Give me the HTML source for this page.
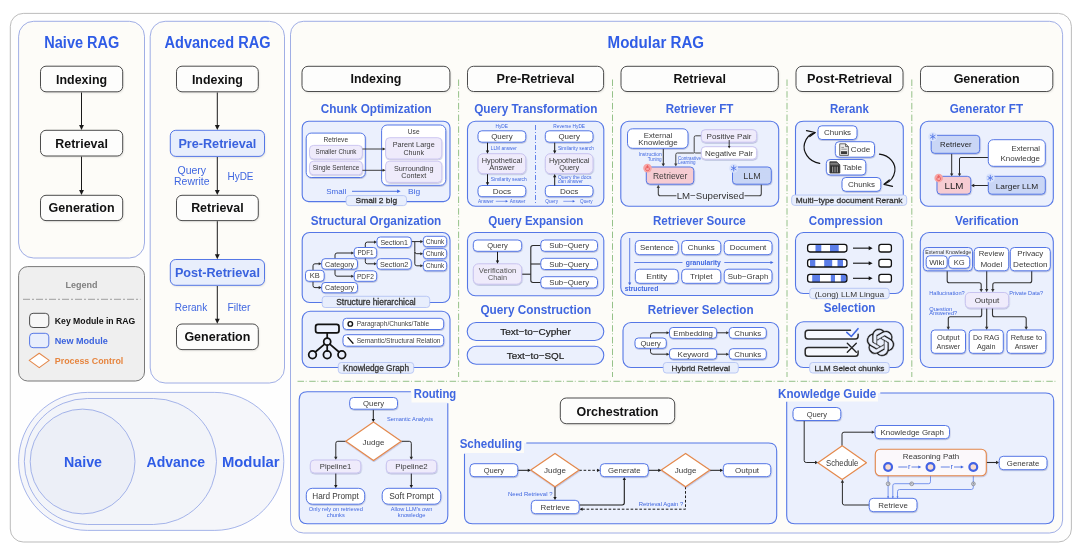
<!DOCTYPE html>
<html lang="en"><head><meta charset="utf-8"><title>RAG paradigms: Naive, Advanced, Modular</title>
<style>html,body{margin:0;padding:0;background:#fff}body{width:1080px;height:552px;overflow:hidden}svg{display:block;will-change:transform;opacity:.999}text{font-family:"Liberation Sans",Arial,Helvetica,sans-serif}</style>
</head><body>
<svg width="1080" height="552" viewBox="0 0 1080 552">
<defs><filter id="bl" x="-10%" y="-30%" width="120%" height="160%"><feGaussianBlur stdDeviation="0.9"/></filter>
<filter id="sh" x="-10%" y="-20%" width="120%" height="150%"><feDropShadow dx="0.4" dy="0.9" stdDeviation="0.7" flood-color="#2a3a80" flood-opacity="0.28"/></filter>
<pattern id="dots" width="1.6" height="1.6" patternUnits="userSpaceOnUse"><rect width="1.6" height="1.6" fill="#cbd8f7"/><circle cx="0.8" cy="0.8" r="0.35" fill="#b7c8f2"/></pattern>
</defs>
<rect width="1080" height="552" fill="#fff"/>
<rect x="10.3" y="13.4" width="1061.1" height="528.6" rx="13" fill="#fefefe" stroke="#b3b3b3" stroke-width="0.9" />
<rect x="18.6" y="21.3" width="125.9" height="236.7" rx="15" fill="#fdfcf8" stroke="#8899e0" stroke-width="0.8" />
<rect x="150.2" y="21.3" width="134.3" height="361.7" rx="15" fill="#fdfcf8" stroke="#8899e0" stroke-width="0.8" />
<rect x="290.5" y="21.3" width="772.1" height="511.7" rx="13" fill="#fdfcf8" stroke="#8899e0" stroke-width="0.8" />
<text x="81.8" y="48.2" font-size="16" font-weight="bold" fill="#2f5ce6" text-anchor="middle" textLength="75" lengthAdjust="spacingAndGlyphs" >Naive RAG</text>
<rect x="41.1" y="67.2" width="82.2" height="25.6" rx="5.5" fill="#000" stroke="none" stroke-width="0" opacity="0.13" filter="url(#bl)"/>
<rect x="40.5" y="66.2" width="82.2" height="25.6" rx="5.5" fill="#fdfdfc" stroke="#4d4d4d" stroke-width="1" />
<text x="81.6" y="83.5" font-size="13.4" font-weight="bold" fill="#111" text-anchor="middle" textLength="51" lengthAdjust="spacingAndGlyphs" >Indexing</text>
<rect x="41.1" y="131.3" width="82.2" height="25.7" rx="5.5" fill="#000" stroke="none" stroke-width="0" opacity="0.13" filter="url(#bl)"/>
<rect x="40.5" y="130.3" width="82.2" height="25.7" rx="5.5" fill="#fdfdfc" stroke="#4d4d4d" stroke-width="1" />
<text x="81.6" y="147.65" font-size="13.4" font-weight="bold" fill="#111" text-anchor="middle" textLength="52.5" lengthAdjust="spacingAndGlyphs" >Retrieval</text>
<rect x="41.1" y="196.3" width="82.2" height="25.3" rx="5.5" fill="#000" stroke="none" stroke-width="0" opacity="0.13" filter="url(#bl)"/>
<rect x="40.5" y="195.3" width="82.2" height="25.3" rx="5.5" fill="#fdfdfc" stroke="#4d4d4d" stroke-width="1" />
<text x="81.6" y="212.45" font-size="13.4" font-weight="bold" fill="#111" text-anchor="middle" textLength="66" lengthAdjust="spacingAndGlyphs" >Generation</text>
<path d="M81.5 92.5 L81.5 125.95" fill="none" stroke="#1a1a1a" stroke-width="1"/>
<polygon points="81.5,130 79.07,124.94 83.93,124.94" fill="#1a1a1a"/>
<path d="M81.5 156.6 L81.5 190.95" fill="none" stroke="#1a1a1a" stroke-width="1"/>
<polygon points="81.5,195 79.07,189.94 83.93,189.94" fill="#1a1a1a"/>
<text x="217.5" y="48.2" font-size="16" font-weight="bold" fill="#2f5ce6" text-anchor="middle" textLength="106" lengthAdjust="spacingAndGlyphs" >Advanced RAG</text>
<rect x="177.1" y="67.2" width="81.8" height="25.6" rx="5.5" fill="#000" stroke="none" stroke-width="0" opacity="0.13" filter="url(#bl)"/>
<rect x="176.5" y="66.2" width="81.8" height="25.6" rx="5.5" fill="#fdfdfc" stroke="#4d4d4d" stroke-width="1" />
<text x="217.4" y="83.5" font-size="13.4" font-weight="bold" fill="#111" text-anchor="middle" textLength="51" lengthAdjust="spacingAndGlyphs" >Indexing</text>
<rect x="170.9" y="131.3" width="94.2" height="26.1" rx="5.5" fill="#000" stroke="none" stroke-width="0" opacity="0.13" filter="url(#bl)"/>
<rect x="170.3" y="130.3" width="94.2" height="26.1" rx="5.5" fill="#e8eefc" stroke="#5577e6" stroke-width="1" />
<text x="217.4" y="147.85" font-size="13.4" font-weight="bold" fill="#3a62de" text-anchor="middle" textLength="78" lengthAdjust="spacingAndGlyphs" >Pre-Retrieval</text>
<rect x="177.1" y="196.3" width="81.8" height="25.3" rx="5.5" fill="#000" stroke="none" stroke-width="0" opacity="0.13" filter="url(#bl)"/>
<rect x="176.5" y="195.3" width="81.8" height="25.3" rx="5.5" fill="#fdfdfc" stroke="#4d4d4d" stroke-width="1" />
<text x="217.4" y="212.45" font-size="13.4" font-weight="bold" fill="#111" text-anchor="middle" textLength="52.5" lengthAdjust="spacingAndGlyphs" >Retrieval</text>
<rect x="170.9" y="260.5" width="94.2" height="25.8" rx="5.5" fill="#000" stroke="none" stroke-width="0" opacity="0.13" filter="url(#bl)"/>
<rect x="170.3" y="259.5" width="94.2" height="25.8" rx="5.5" fill="#e8eefc" stroke="#5577e6" stroke-width="1" />
<text x="217.4" y="276.9" font-size="13.4" font-weight="bold" fill="#3a62de" text-anchor="middle" textLength="85" lengthAdjust="spacingAndGlyphs" >Post-Retrieval</text>
<rect x="177.1" y="325" width="81.8" height="25.6" rx="5.5" fill="#000" stroke="none" stroke-width="0" opacity="0.13" filter="url(#bl)"/>
<rect x="176.5" y="324" width="81.8" height="25.6" rx="5.5" fill="#fdfdfc" stroke="#4d4d4d" stroke-width="1" />
<text x="217.4" y="341.3" font-size="13.4" font-weight="bold" fill="#111" text-anchor="middle" textLength="66" lengthAdjust="spacingAndGlyphs" >Generation</text>
<path d="M217.3 92.5 L217.3 125.95" fill="none" stroke="#1a1a1a" stroke-width="1"/>
<polygon points="217.3,130 214.87,124.94 219.73,124.94" fill="#1a1a1a"/>
<path d="M217.3 157 L217.3 190.95" fill="none" stroke="#1a1a1a" stroke-width="1"/>
<polygon points="217.3,195 214.87,189.94 219.73,189.94" fill="#1a1a1a"/>
<path d="M217.3 221.2 L217.3 255.15" fill="none" stroke="#1a1a1a" stroke-width="1"/>
<polygon points="217.3,259.2 214.87,254.14 219.73,254.14" fill="#1a1a1a"/>
<path d="M217.3 286 L217.3 319.65" fill="none" stroke="#1a1a1a" stroke-width="1"/>
<polygon points="217.3,323.7 214.87,318.64 219.73,318.64" fill="#1a1a1a"/>
<text x="191.8" y="173.6" font-size="10.5" fill="#3f66e0" text-anchor="middle" textLength="28.5" lengthAdjust="spacingAndGlyphs" >Query</text>
<text x="191.8" y="185" font-size="10.5" fill="#3f66e0" text-anchor="middle" textLength="35.5" lengthAdjust="spacingAndGlyphs" >Rewrite</text>
<text x="240.5" y="179.8" font-size="10.5" fill="#3f66e0" text-anchor="middle" textLength="26" lengthAdjust="spacingAndGlyphs" >HyDE</text>
<text x="191" y="310.8" font-size="10.5" fill="#3f66e0" text-anchor="middle" textLength="32.5" lengthAdjust="spacingAndGlyphs" >Rerank</text>
<text x="239" y="310.8" font-size="10.5" fill="#3f66e0" text-anchor="middle" textLength="23" lengthAdjust="spacingAndGlyphs" >Filter</text>
<rect x="18.6" y="266.6" width="125.9" height="114.4" rx="9" fill="#efefef" stroke="#6a6a6a" stroke-width="0.9" />
<text x="81.5" y="287.7" font-size="8.8" font-weight="bold" fill="#808080" text-anchor="middle" textLength="32" lengthAdjust="spacingAndGlyphs" >Legend</text>
<path d="M23 299.3H140.5" stroke="#8a8a8a" stroke-width="0.8" stroke-dasharray="7 2 2 2" fill="none"/>
<rect x="29.6" y="313.3" width="19.2" height="14.2" rx="3.5" fill="#f7f7f7" stroke="#4d4d4d" stroke-width="1" />
<text x="54.8" y="323.6" font-size="9" font-weight="bold" fill="#111" text-anchor="start" textLength="80.5" lengthAdjust="spacingAndGlyphs" >Key Module in RAG</text>
<rect x="29.6" y="333.3" width="19.2" height="14.4" rx="3.5" fill="#e8eefc" stroke="#5577e6" stroke-width="1" />
<text x="54.8" y="343.7" font-size="9" font-weight="bold" fill="#3a62de" text-anchor="start" textLength="53" lengthAdjust="spacingAndGlyphs" >New Module</text>
<polygon points="39.2,353.2 49.2,360.4 39.2,367.6 29.2,360.4" fill="#fff" stroke="#e4894c" stroke-width="1.1" stroke-linejoin="round"/>
<text x="54.8" y="363.6" font-size="9" font-weight="bold" fill="#e6853f" text-anchor="start" textLength="68.5" lengthAdjust="spacingAndGlyphs" >Process Control</text>
<rect x="18.6" y="392.4" width="265.2" height="138" rx="69" fill="#f5f6fa" stroke="#8fa2e4" stroke-width="0.8" />
<rect x="24.3" y="398.5" width="192.2" height="126" rx="63" fill="#f2f4f9" stroke="#8fa2e4" stroke-width="0.8" />
<circle cx="82.6" cy="461.5" r="52.4" fill="#eceff7" stroke="#8fa2e4" stroke-width="0.8"/>
<text x="83" y="467" font-size="15.5" font-weight="bold" fill="#2f5ce6" text-anchor="middle" textLength="38" lengthAdjust="spacingAndGlyphs" >Naive</text>
<text x="175.8" y="467" font-size="15.5" font-weight="bold" fill="#2f5ce6" text-anchor="middle" textLength="58.5" lengthAdjust="spacingAndGlyphs" >Advance</text>
<text x="250.8" y="467" font-size="15.5" font-weight="bold" fill="#2f5ce6" text-anchor="middle" textLength="57.7" lengthAdjust="spacingAndGlyphs" >Modular</text>
<text x="655.8" y="48.2" font-size="16" font-weight="bold" fill="#2f5ce6" text-anchor="middle" textLength="96.5" lengthAdjust="spacingAndGlyphs" >Modular RAG</text>
<rect x="302.6" y="67.3" width="147.9" height="25.2" rx="6" fill="#000" stroke="none" stroke-width="0" opacity="0.13" filter="url(#bl)"/>
<rect x="302" y="66.3" width="147.9" height="25.2" rx="6" fill="#fdfdfc" stroke="#4d4d4d" stroke-width="1" />
<text x="375.95" y="83.4" font-size="13.6" font-weight="bold" fill="#111" text-anchor="middle" textLength="51" lengthAdjust="spacingAndGlyphs" >Indexing</text>
<rect x="468.1" y="67.3" width="136.1" height="25.2" rx="6" fill="#000" stroke="none" stroke-width="0" opacity="0.13" filter="url(#bl)"/>
<rect x="467.5" y="66.3" width="136.1" height="25.2" rx="6" fill="#fdfdfc" stroke="#4d4d4d" stroke-width="1" />
<text x="535.55" y="83.4" font-size="13.6" font-weight="bold" fill="#111" text-anchor="middle" textLength="78" lengthAdjust="spacingAndGlyphs" >Pre-Retrieval</text>
<rect x="621.6" y="67.3" width="157.3" height="25.2" rx="6" fill="#000" stroke="none" stroke-width="0" opacity="0.13" filter="url(#bl)"/>
<rect x="621" y="66.3" width="157.3" height="25.2" rx="6" fill="#fdfdfc" stroke="#4d4d4d" stroke-width="1" />
<text x="699.65" y="83.4" font-size="13.6" font-weight="bold" fill="#111" text-anchor="middle" textLength="52.5" lengthAdjust="spacingAndGlyphs" >Retrieval</text>
<rect x="796.6" y="67.3" width="107" height="25.2" rx="6" fill="#000" stroke="none" stroke-width="0" opacity="0.13" filter="url(#bl)"/>
<rect x="796" y="66.3" width="107" height="25.2" rx="6" fill="#fdfdfc" stroke="#4d4d4d" stroke-width="1" />
<text x="849.5" y="83.4" font-size="13.6" font-weight="bold" fill="#111" text-anchor="middle" textLength="85" lengthAdjust="spacingAndGlyphs" >Post-Retrieval</text>
<rect x="921.1" y="67.3" width="132.3" height="25.2" rx="6" fill="#000" stroke="none" stroke-width="0" opacity="0.13" filter="url(#bl)"/>
<rect x="920.5" y="66.3" width="132.3" height="25.2" rx="6" fill="#fdfdfc" stroke="#4d4d4d" stroke-width="1" />
<text x="986.65" y="83.4" font-size="13.6" font-weight="bold" fill="#111" text-anchor="middle" textLength="66" lengthAdjust="spacingAndGlyphs" >Generation</text>
<path d="M458.6 79.5V377" stroke="#7ab36c" stroke-width="0.8" stroke-dasharray="6.5 1.7 0.9 2.6" fill="none"/>
<path d="M612.5 79.5V377" stroke="#7ab36c" stroke-width="0.8" stroke-dasharray="6.5 1.7 0.9 2.6" fill="none"/>
<path d="M787 79.5V377" stroke="#7ab36c" stroke-width="0.8" stroke-dasharray="6.5 1.7 0.9 2.6" fill="none"/>
<path d="M911.8 79.5V377" stroke="#7ab36c" stroke-width="0.8" stroke-dasharray="6.5 1.7 0.9 2.6" fill="none"/>
<path d="M297.5 381.3H1057.5" stroke="#7ab36c" stroke-width="0.8" stroke-dasharray="6.5 1.7 0.9 2.6" fill="none"/>
<text x="376.3" y="113" font-size="12" font-weight="bold" fill="#3f66e0" text-anchor="middle" textLength="111" lengthAdjust="spacingAndGlyphs" >Chunk Optimization</text>
<rect x="302.2" y="121.3" width="147.8" height="80.3" rx="6.5" fill="#ebf0fd" stroke="#5577e6" stroke-width="1.1" />
<g filter="url(#sh)">
<rect x="306.2" y="133.1" width="59.1" height="44.4" rx="5" fill="#fff" stroke="#5577e6" stroke-width="1" />
<rect x="381.6" y="125" width="64.2" height="60.3" rx="5.5" fill="#fff" stroke="#5577e6" stroke-width="1" />
</g>
<text x="335.8" y="141.7" font-size="6.6" fill="#3a3a3a" text-anchor="middle" >Retrieve</text>
<text x="413.7" y="133.8" font-size="6.6" fill="#3a3a3a" text-anchor="middle" >Use</text>
<g filter="url(#sh)">
<rect x="309.5" y="145.4" width="52.9" height="13.6" rx="4" fill="#efebfb" stroke="#c8c3f0" stroke-width="0.9" />
<rect x="309.5" y="161.2" width="52.9" height="13.6" rx="4" fill="#efebfb" stroke="#c8c3f0" stroke-width="0.9" />
<rect x="385.6" y="137.7" width="56.2" height="21.3" rx="4" fill="#efebfb" stroke="#c8c3f0" stroke-width="0.9" />
<rect x="385.6" y="161.2" width="56.2" height="21.2" rx="4" fill="#efebfb" stroke="#c8c3f0" stroke-width="0.9" />
</g>
<text x="336" y="154.4" font-size="6.3" fill="#3a3a3a" text-anchor="middle" textLength="41" lengthAdjust="spacingAndGlyphs" >Smaller Chunk</text>
<text x="336" y="170.3" font-size="6.3" fill="#3a3a3a" text-anchor="middle" textLength="46.5" lengthAdjust="spacingAndGlyphs" >Single Sentence</text>
<text x="413.7" y="147.2" font-size="6.9" fill="#3a3a3a" text-anchor="middle" textLength="42" lengthAdjust="spacingAndGlyphs" >Parent Large</text>
<text x="413.7" y="154.6" font-size="6.9" fill="#3a3a3a" text-anchor="middle" textLength="20.5" lengthAdjust="spacingAndGlyphs" >Chunk</text>
<text x="413.7" y="170.6" font-size="6.9" fill="#3a3a3a" text-anchor="middle" textLength="39.5" lengthAdjust="spacingAndGlyphs" >Surrounding</text>
<text x="413.7" y="177.8" font-size="6.9" fill="#3a3a3a" text-anchor="middle" textLength="25" lengthAdjust="spacingAndGlyphs" >Context</text>
<path d="M362.4 149 L383.21 149" fill="none" stroke="#2a2a2a" stroke-width="0.9"/>
<polygon points="385.6,149 382.61,150.55 382.61,147.45" fill="#2a2a2a"/>
<path d="M362.4 170.3 L383.21 170.3" fill="none" stroke="#2a2a2a" stroke-width="0.9"/>
<polygon points="385.6,170.3 382.61,171.85 382.61,168.75" fill="#2a2a2a"/>
<text x="336.2" y="194.2" font-size="8" fill="#3f66e0" text-anchor="middle" textLength="20.1" lengthAdjust="spacingAndGlyphs" >Small</text>
<path d="M352 191.3 L397.84 191.3" fill="none" stroke="#3f66e0" stroke-width="0.9"/>
<polygon points="400.6,191.3 397.15,193.09 397.15,189.51" fill="#3f66e0"/>
<text x="414" y="194.2" font-size="8" fill="#3f66e0" text-anchor="middle" textLength="12.2" lengthAdjust="spacingAndGlyphs" >Big</text>
<rect x="346.1" y="195.6" width="60.4" height="10" rx="3" fill="#e8eefc" stroke="#b4c4f4" stroke-width="0.9" />
<text x="376.3" y="203.4" font-size="8" fill="#2e2e2e" text-anchor="middle" textLength="41.5" lengthAdjust="spacingAndGlyphs" stroke="#2e2e2e" stroke-width="0.28">Small 2 big</text>
<text x="376" y="224.6" font-size="12" font-weight="bold" fill="#3f66e0" text-anchor="middle" textLength="130.5" lengthAdjust="spacingAndGlyphs" >Structural Organization</text>
<rect x="302.2" y="232.5" width="147.8" height="70" rx="7.5" fill="#ebf0fd" stroke="#5577e6" stroke-width="1.1" />
<path d="M313 270.3 L313 265.8 Q313 263.8 315 263.8 L319.31 263.8" fill="none" stroke="#2a2a2a" stroke-width="1.0"/>
<polygon points="321.7,263.8 318.71,265.35 318.71,262.25" fill="#2a2a2a"/>
<path d="M313 281.3 L313 285.6 Q313 287.6 315 287.6 L319.31 287.6" fill="none" stroke="#2a2a2a" stroke-width="1.0"/>
<polygon points="321.7,287.6 318.71,289.15 318.71,286.05" fill="#2a2a2a"/>
<path d="M335 258.7 L335 255 Q335 253 337 253 L351.81 253" fill="none" stroke="#2a2a2a" stroke-width="1.0"/>
<polygon points="354.2,253 351.21,254.55 351.21,251.45" fill="#2a2a2a"/>
<path d="M335 269.2 L335 274.2 Q335 276.2 337 276.2 L351.81 276.2" fill="none" stroke="#2a2a2a" stroke-width="1.0"/>
<polygon points="354.2,276.2 351.21,277.75 351.21,274.65" fill="#2a2a2a"/>
<path d="M365.3 247.5 L365.3 244.1 Q365.3 242.1 367.3 242.1 L374.61 242.1" fill="none" stroke="#2a2a2a" stroke-width="1.0"/>
<polygon points="377,242.1 374.01,243.65 374.01,240.55" fill="#2a2a2a"/>
<path d="M365.3 258 L365.3 261.8 Q365.3 263.8 367.3 263.8 L374.61 263.8" fill="none" stroke="#2a2a2a" stroke-width="1.0"/>
<polygon points="377,263.8 374.01,265.35 374.01,262.25" fill="#2a2a2a"/>
<path d="M411.3 241.6 L420.91 241.6" fill="none" stroke="#2a2a2a" stroke-width="1.0"/>
<polygon points="423.3,241.6 420.31,243.15 420.31,240.05" fill="#2a2a2a"/>
<path d="M414.8 241.6 L414.8 251.7 Q414.8 253.7 416.8 253.7 L420.91 253.7" fill="none" stroke="#2a2a2a" stroke-width="1.0"/>
<polygon points="423.3,253.7 420.31,255.25 420.31,252.15" fill="#2a2a2a"/>
<path d="M414.8 252 L414.8 263.8 Q414.8 265.8 416.8 265.8 L420.91 265.8" fill="none" stroke="#2a2a2a" stroke-width="1.0"/>
<polygon points="423.3,265.8 420.31,267.35 420.31,264.25" fill="#2a2a2a"/>
<g filter="url(#sh)">
</g>
<rect x="377" y="237" width="34.3" height="10.5" rx="3.3" fill="#fff" stroke="#5577e6" stroke-width="1" filter="url(#sh)"/>
<text x="394.15" y="244.91" font-size="7.4" fill="#3a3a3a" text-anchor="middle" textLength="27.5" lengthAdjust="spacingAndGlyphs" >Section1</text>
<rect x="423.3" y="236.3" width="23.4" height="10.4" rx="3.3" fill="#fff" stroke="#5577e6" stroke-width="1" filter="url(#sh)"/>
<text x="435" y="244.16" font-size="7.4" fill="#3a3a3a" text-anchor="middle" textLength="18" lengthAdjust="spacingAndGlyphs" >Chunk</text>
<rect x="423.3" y="248.7" width="23.4" height="10" rx="3.3" fill="#fff" stroke="#5577e6" stroke-width="1" filter="url(#sh)"/>
<text x="435" y="256.36" font-size="7.4" fill="#3a3a3a" text-anchor="middle" textLength="18" lengthAdjust="spacingAndGlyphs" >Chunk</text>
<rect x="423.3" y="260.8" width="23.4" height="10" rx="3.3" fill="#fff" stroke="#5577e6" stroke-width="1" filter="url(#sh)"/>
<text x="435" y="268.46" font-size="7.4" fill="#3a3a3a" text-anchor="middle" textLength="18" lengthAdjust="spacingAndGlyphs" >Chunk</text>
<rect x="354.2" y="247.5" width="22.5" height="10.5" rx="3.3" fill="#fff" stroke="#5577e6" stroke-width="1" filter="url(#sh)"/>
<text x="365.45" y="255.41" font-size="7.4" fill="#3a3a3a" text-anchor="middle" textLength="16" lengthAdjust="spacingAndGlyphs" >PDF1</text>
<rect x="377" y="258.7" width="34.3" height="10.5" rx="3.3" fill="#fff" stroke="#5577e6" stroke-width="1" filter="url(#sh)"/>
<text x="394.15" y="266.61" font-size="7.4" fill="#3a3a3a" text-anchor="middle" textLength="28.5" lengthAdjust="spacingAndGlyphs" >Section2</text>
<rect x="321.7" y="258.7" width="35.8" height="10.5" rx="3.3" fill="#fff" stroke="#5577e6" stroke-width="1" filter="url(#sh)"/>
<text x="339.6" y="266.61" font-size="7.4" fill="#3a3a3a" text-anchor="middle" textLength="29" lengthAdjust="spacingAndGlyphs" >Category</text>
<rect x="354.2" y="270.8" width="22.5" height="10.5" rx="3.3" fill="#fff" stroke="#5577e6" stroke-width="1" filter="url(#sh)"/>
<text x="365.45" y="278.71" font-size="7.4" fill="#3a3a3a" text-anchor="middle" textLength="17" lengthAdjust="spacingAndGlyphs" >PDF2</text>
<rect x="305.5" y="270.3" width="18.7" height="11" rx="3.3" fill="#fff" stroke="#5577e6" stroke-width="1" filter="url(#sh)"/>
<text x="314.85" y="278.46" font-size="7.4" fill="#3a3a3a" text-anchor="middle" textLength="10" lengthAdjust="spacingAndGlyphs" >KB</text>
<rect x="321.7" y="282.5" width="35.8" height="10.3" rx="3.3" fill="#fff" stroke="#5577e6" stroke-width="1" filter="url(#sh)"/>
<text x="339.6" y="290.31" font-size="7.4" fill="#3a3a3a" text-anchor="middle" textLength="29" lengthAdjust="spacingAndGlyphs" >Category</text>
<rect x="322.2" y="296.3" width="107.5" height="11.2" rx="3" fill="#e8eefc" stroke="#b4c4f4" stroke-width="0.9" />
<text x="375.95" y="305" font-size="8.2" fill="#333" text-anchor="middle" textLength="79.5" lengthAdjust="spacingAndGlyphs" stroke="#333" stroke-width="0.28">Structure hierarchical</text>
<rect x="302.2" y="311.3" width="147.8" height="56.2" rx="8" fill="#ebf0fd" stroke="#5577e6" stroke-width="1.1" />
<rect x="343" y="318.3" width="100.7" height="11.2" rx="3.5" fill="#fff" stroke="#5577e6" stroke-width="1" filter="url(#sh)"/>
<rect x="343" y="334.7" width="100.7" height="11.5" rx="3.5" fill="#fff" stroke="#5577e6" stroke-width="1" filter="url(#sh)"/>
<circle cx="350.3" cy="323.9" r="2.25" fill="none" stroke="#111" stroke-width="1.4"/>
<text x="356.7" y="326" font-size="6.6" fill="#444" text-anchor="start" textLength="72.5" lengthAdjust="spacingAndGlyphs" >Paragraph/Chunks/Table</text>
<path d="M348 337.6L353 343.2" stroke="#111" stroke-width="1.3" stroke-linecap="round"/>
<text x="356.7" y="342.6" font-size="6.6" fill="#444" text-anchor="start" textLength="83.8" lengthAdjust="spacingAndGlyphs" >Semantic/Structural Relation</text>
<g fill="none" stroke="#111" stroke-width="1.75" stroke-linecap="round">
<rect x="315.6" y="324.3" width="23.4" height="8.6" rx="2.4"/>
<path d="M327.2 333.1V338.2M324.6 344.2L315.3 352M327.2 345.3V351M329.8 344.2L339 352"/>
<circle cx="327.2" cy="341.7" r="3.5"/><circle cx="312.5" cy="354.7" r="3.8"/><circle cx="327.2" cy="354.7" r="3.8"/><circle cx="341.8" cy="354.7" r="3.8"/>
</g>
<rect x="338.3" y="362.5" width="75.4" height="10.8" rx="3" fill="#e8eefc" stroke="#b4c4f4" stroke-width="0.9" />
<text x="376" y="370.9" font-size="8.2" fill="#333" text-anchor="middle" textLength="66" lengthAdjust="spacingAndGlyphs" stroke="#333" stroke-width="0.28">Knowledge Graph</text>
<text x="535.8" y="113" font-size="12" font-weight="bold" fill="#3f66e0" text-anchor="middle" textLength="123.3" lengthAdjust="spacingAndGlyphs" >Query Transformation</text>
<rect x="467.5" y="121.3" width="136.3" height="84.9" rx="8" fill="#ebf0fd" stroke="#5577e6" stroke-width="1.1" />
<text x="501.7" y="128.3" font-size="4.8" fill="#3f66e0" text-anchor="middle" >HyDE</text>
<text x="569.2" y="128.3" font-size="4.8" fill="#3f66e0" text-anchor="middle" >Reverse HyDE</text>
<path d="M535.5 125V203" stroke="#5577e6" stroke-width="0.9" stroke-dasharray="5 2 1 2" fill="none"/>
<rect x="478" y="130.8" width="47.8" height="11.4" rx="3.8" fill="#fff" stroke="#5577e6" stroke-width="1" filter="url(#sh)"/>
<text x="501.9" y="139.38" font-size="8" fill="#3a3a3a" text-anchor="middle" textLength="21.5" lengthAdjust="spacingAndGlyphs" >Query</text>
<rect x="478" y="153.7" width="47.8" height="20" rx="5" fill="#efebfb" stroke="#c8c3f0" stroke-width="1" filter="url(#sh)"/>
<rect x="478" y="185.5" width="47.8" height="11.2" rx="3.8" fill="#fff" stroke="#5577e6" stroke-width="1" filter="url(#sh)"/>
<text x="501.9" y="193.98" font-size="8" fill="#3a3a3a" text-anchor="middle" textLength="18.5" lengthAdjust="spacingAndGlyphs" >Docs</text>
<rect x="545.3" y="130.8" width="47.7" height="11.4" rx="3.8" fill="#fff" stroke="#5577e6" stroke-width="1" filter="url(#sh)"/>
<text x="569.15" y="139.38" font-size="8" fill="#3a3a3a" text-anchor="middle" textLength="21.5" lengthAdjust="spacingAndGlyphs" >Query</text>
<rect x="545.3" y="153.7" width="47.7" height="20" rx="5" fill="#efebfb" stroke="#c8c3f0" stroke-width="1" filter="url(#sh)"/>
<rect x="545.3" y="185.5" width="47.7" height="11.2" rx="3.8" fill="#fff" stroke="#5577e6" stroke-width="1" filter="url(#sh)"/>
<text x="569.15" y="193.98" font-size="8" fill="#3a3a3a" text-anchor="middle" textLength="18.5" lengthAdjust="spacingAndGlyphs" >Docs</text>
<text x="501.9" y="162.9" font-size="7.4" fill="#3a3a3a" text-anchor="middle" textLength="40.5" lengthAdjust="spacingAndGlyphs" >Hypothetical</text>
<text x="501.9" y="170.1" font-size="7.4" fill="#3a3a3a" text-anchor="middle" textLength="25.5" lengthAdjust="spacingAndGlyphs" >Answer</text>
<text x="569.2" y="162.9" font-size="7.4" fill="#3a3a3a" text-anchor="middle" textLength="40.5" lengthAdjust="spacingAndGlyphs" >Hypothetical</text>
<text x="569.2" y="170.1" font-size="7.4" fill="#3a3a3a" text-anchor="middle" textLength="20" lengthAdjust="spacingAndGlyphs" >Query</text>
<path d="M487.5 142.7 L487.5 151.12" fill="none" stroke="#1a1a1a" stroke-width="1.0"/>
<polygon points="487.5,153.7 485.83,150.48 489.17,150.48" fill="#1a1a1a"/>
<path d="M487.5 174.2 L487.5 182.92" fill="none" stroke="#1a1a1a" stroke-width="1.0"/>
<polygon points="487.5,185.5 485.83,182.28 489.17,182.28" fill="#1a1a1a"/>
<path d="M554.7 142.7 L554.7 151.12" fill="none" stroke="#1a1a1a" stroke-width="1.0"/>
<polygon points="554.7,153.7 553.03,150.48 556.37,150.48" fill="#1a1a1a"/>
<path d="M554.7 185.5 L554.7 176.58" fill="none" stroke="#1a1a1a" stroke-width="1.0"/>
<polygon points="554.7,174 556.37,177.22 553.03,177.22" fill="#1a1a1a"/>
<text x="490.8" y="149.6" font-size="4.8" fill="#3f66e0" text-anchor="start" textLength="26" lengthAdjust="spacingAndGlyphs" >LLM answer</text>
<text x="490.8" y="180.9" font-size="4.8" fill="#3f66e0" text-anchor="start" textLength="35.9" lengthAdjust="spacingAndGlyphs" >Similarity search</text>
<text x="558" y="149.6" font-size="4.8" fill="#3f66e0" text-anchor="start" textLength="35.9" lengthAdjust="spacingAndGlyphs" >Similarity search</text>
<text x="558" y="178.9" font-size="4.8" fill="#3f66e0" text-anchor="start" textLength="33.5" lengthAdjust="spacingAndGlyphs" >Query the docs</text>
<text x="558" y="183.4" font-size="4.8" fill="#3f66e0" text-anchor="start" textLength="25" lengthAdjust="spacingAndGlyphs" >can answer</text>
<text x="478" y="202.9" font-size="4.6" fill="#3f66e0" text-anchor="start" textLength="15.7" lengthAdjust="spacingAndGlyphs" >Answer</text>
<text x="509.7" y="202.9" font-size="4.6" fill="#3f66e0" text-anchor="start" textLength="15.7" lengthAdjust="spacingAndGlyphs" >Answer</text>
<path d="M495.8 201.3 L506.16 201.3" fill="none" stroke="#3f66e0" stroke-width="0.6"/>
<polygon points="508,201.3 505.7,202.5 505.7,200.1" fill="#3f66e0"/>
<text x="545.3" y="202.9" font-size="4.6" fill="#3f66e0" text-anchor="start" textLength="12.7" lengthAdjust="spacingAndGlyphs" >Query</text>
<text x="580" y="202.9" font-size="4.6" fill="#3f66e0" text-anchor="start" textLength="12.7" lengthAdjust="spacingAndGlyphs" >Query</text>
<path d="M563.3 201.3 L573.16 201.3" fill="none" stroke="#3f66e0" stroke-width="0.6"/>
<polygon points="575,201.3 572.7,202.5 572.7,200.1" fill="#3f66e0"/>
<text x="535.8" y="224.6" font-size="12" font-weight="bold" fill="#3f66e0" text-anchor="middle" textLength="95" lengthAdjust="spacingAndGlyphs" >Query Expansion</text>
<rect x="467.5" y="232.5" width="136.3" height="63.3" rx="8" fill="#ebf0fd" stroke="#5577e6" stroke-width="1.1" />
<path d="M521.7 274.2 L530.8 274.2" fill="none" stroke="#2a2a2a" stroke-width="1.1"/>
<path d="M540.8 245.5 L533 245.5 Q530.8 245.5 530.8 247.7 L530.8 280.3 Q530.8 282.5 533 282.5 L540.8 282.5" fill="none" stroke="#2a2a2a" stroke-width="1.1"/>
<path d="M530.8 264 L540.8 264" fill="none" stroke="#2a2a2a" stroke-width="1.1"/>
<rect x="473.3" y="240" width="48.4" height="11.3" rx="3.8" fill="#fff" stroke="#5577e6" stroke-width="1" filter="url(#sh)"/>
<text x="497.5" y="248.31" font-size="7.4" fill="#3a3a3a" text-anchor="middle" textLength="20.5" lengthAdjust="spacingAndGlyphs" >Query</text>
<rect x="473.3" y="263.8" width="48.4" height="20.4" rx="5" fill="#efebfb" stroke="#c8c3f0" stroke-width="1" filter="url(#sh)"/>
<text x="497.5" y="272.6" font-size="6.8" fill="#555" text-anchor="middle" textLength="37.5" lengthAdjust="spacingAndGlyphs" >Verification</text>
<text x="497.5" y="279.8" font-size="6.8" fill="#555" text-anchor="middle" textLength="19" lengthAdjust="spacingAndGlyphs" >Chain</text>
<path d="M497.5 251.8 L497.5 261.22" fill="none" stroke="#1a1a1a" stroke-width="1.0"/>
<polygon points="497.5,263.8 495.83,260.58 499.17,260.58" fill="#1a1a1a"/>
<rect x="540.8" y="240" width="56.7" height="11.3" rx="3.8" fill="#fff" stroke="#5577e6" stroke-width="1" filter="url(#sh)"/>
<text x="569.15" y="248.31" font-size="7.4" fill="#3a3a3a" text-anchor="middle" textLength="40" lengthAdjust="spacingAndGlyphs" >Sub−Query</text>
<rect x="540.8" y="258.3" width="56.7" height="11.2" rx="3.8" fill="#fff" stroke="#5577e6" stroke-width="1" filter="url(#sh)"/>
<text x="569.15" y="266.56" font-size="7.4" fill="#3a3a3a" text-anchor="middle" textLength="40" lengthAdjust="spacingAndGlyphs" >Sub−Query</text>
<rect x="540.8" y="276.7" width="56.7" height="11.3" rx="3.8" fill="#fff" stroke="#5577e6" stroke-width="1" filter="url(#sh)"/>
<text x="569.15" y="285.01" font-size="7.4" fill="#3a3a3a" text-anchor="middle" textLength="40" lengthAdjust="spacingAndGlyphs" >Sub−Query</text>
<text x="535.8" y="314.2" font-size="12" font-weight="bold" fill="#3f66e0" text-anchor="middle" textLength="110.7" lengthAdjust="spacingAndGlyphs" >Query Construction</text>
<rect x="467.2" y="322.5" width="136.6" height="18" rx="9" fill="#ebf0fd" stroke="#5577e6" stroke-width="1.1" />
<rect x="467.2" y="346.3" width="136.6" height="17.9" rx="9" fill="#ebf0fd" stroke="#5577e6" stroke-width="1.1" />
<text x="535.5" y="335" font-size="9.4" fill="#222" text-anchor="middle" textLength="70.5" lengthAdjust="spacingAndGlyphs" stroke="#222" stroke-width="0.2">Text−to−Cypher</text>
<text x="535.5" y="358.8" font-size="9.4" fill="#222" text-anchor="middle" textLength="57.5" lengthAdjust="spacingAndGlyphs" stroke="#222" stroke-width="0.2">Text−to−SQL</text>
<text x="699.5" y="113" font-size="12" font-weight="bold" fill="#3f66e0" text-anchor="middle" textLength="67.75" lengthAdjust="spacingAndGlyphs" >Retriever FT</text>
<rect x="620.8" y="121.3" width="157.9" height="84.9" rx="8" fill="#ebf0fd" stroke="#5577e6" stroke-width="1.1" />
<path d="M663.3 148.3 L663.3 164.02" fill="none" stroke="#2a2a2a" stroke-width="1.0"/>
<polygon points="663.3,166.6 661.63,163.38 664.97,163.38" fill="#2a2a2a"/>
<path d="M701.3 135.8 L695.7 135.8 Q694.2 135.8 694.2 137.3 L694.2 151.5 Q694.2 153 695.7 153 L701.3 153" fill="none" stroke="#444" stroke-width="1.0"/>
<path d="M694.2 153 L677.3 153 Q675.8 153 675.8 154.5 L675.8 164.02" fill="none" stroke="#444" stroke-width="1.0"/>
<polygon points="675.8,166.6 674.13,163.38 677.47,163.38" fill="#444"/>
<rect x="627.5" y="128.8" width="60.5" height="19.5" rx="5" fill="#fff" stroke="#5577e6" stroke-width="1" filter="url(#sh)"/>
<text x="658" y="137.9" font-size="7.6" fill="#3a3a3a" text-anchor="middle" textLength="28.5" lengthAdjust="spacingAndGlyphs" >External</text>
<text x="658" y="145.1" font-size="7.6" fill="#3a3a3a" text-anchor="middle" textLength="39.5" lengthAdjust="spacingAndGlyphs" >Knowledge</text>
<rect x="701.3" y="129.7" width="55.4" height="12.5" rx="3.8" fill="#efebfb" stroke="#c8c3f0" stroke-width="1" filter="url(#sh)"/>
<text x="729" y="138.76" font-size="7.8" fill="#3a3a3a" text-anchor="middle" textLength="45" lengthAdjust="spacingAndGlyphs" >Positive Pair</text>
<rect x="701.3" y="146.7" width="55.4" height="12.5" rx="3.8" fill="#fff" stroke="#c8c3f0" stroke-width="1" filter="url(#sh)"/>
<text x="729" y="155.76" font-size="7.8" fill="#3a3a3a" text-anchor="middle" textLength="48" lengthAdjust="spacingAndGlyphs" >Negative Pair</text>
<path d="M729.2 140 L729.2 146.58" fill="none" stroke="#2a2a2a" stroke-width="0.9"/>
<polygon points="729.2,148.6 727.88,146.07 730.52,146.07" fill="#2a2a2a"/>
<text x="661.7" y="156.2" font-size="4.5" fill="#3f66e0" text-anchor="end" textLength="23" lengthAdjust="spacingAndGlyphs" >Instruction</text>
<text x="661.7" y="160.8" font-size="4.5" fill="#3f66e0" text-anchor="end" textLength="14" lengthAdjust="spacingAndGlyphs" >Tuning</text>
<text x="678" y="159.5" font-size="4.5" fill="#3f66e0" text-anchor="start" textLength="23" lengthAdjust="spacingAndGlyphs" >Contrastive</text>
<text x="678" y="163.9" font-size="4.5" fill="#3f66e0" text-anchor="start" textLength="17.5" lengthAdjust="spacingAndGlyphs" >Learning</text>
<rect x="646.3" y="167" width="47.5" height="17.2" rx="3.5" fill="#f6ccd2" stroke="#5577e6" stroke-width="1" filter="url(#sh)"/>
<text x="670.2" y="179.2" font-size="8.6" fill="#3a3a3a" text-anchor="middle" textLength="34.5" lengthAdjust="spacingAndGlyphs" >Retriever</text>
<rect x="732.5" y="167" width="38.8" height="17.2" rx="3.5" fill="url(#dots)" stroke="#5577e6" stroke-width="1" filter="url(#sh)"/>
<text x="752" y="179.2" font-size="8.6" fill="#3a3a3a" text-anchor="middle" textLength="17.5" lengthAdjust="spacingAndGlyphs" >LLM</text>
<circle cx="647.5" cy="168.1" r="4.3" fill="#f7a3a3"/>
<path d="M647.5 165.5 C647.9 166.9 649.6 167.7 649.4 169.1 C649.3 170.3 648.4 170.7 647.5 170.7 C646.6 170.7 645.6 170.2 645.6 169 C645.6 167.9 646.6 167.5 646.7 166.6 C647.1 166.9 647.3 167.2 647.4 167.8 C647.7 167.1 647.7 166.3 647.5 165.5Z" fill="none" stroke="#e23c3c" stroke-width="0.6"/>
<circle cx="733.7" cy="168.3" r="4.5" fill="#d9e3fc"/>
<path d="M733.7 165.6L733.7 171M736.04 166.95L731.36 169.65M736.04 169.65L731.36 166.95" stroke="#4f74e6" stroke-width="0.85" fill="none" stroke-linecap="round"/>
<path d="M761.3 184.7 L761.3 193.8 Q761.3 195.8 759.3 195.8 L744.5 195.8" fill="none" stroke="#444" stroke-width="1.1"/>
<path d="M676.4 195.8 L660.3 195.8 Q658.3 195.8 658.3 193.8 L658.3 187.28" fill="none" stroke="#444" stroke-width="1.1"/>
<polygon points="658.3,184.7 659.97,187.92 656.63,187.92" fill="#444"/>
<text x="710.4" y="198.9" font-size="9.6" fill="#333" text-anchor="middle" textLength="67.5" lengthAdjust="spacingAndGlyphs" >LM−Supervised</text>
<text x="699.4" y="224.6" font-size="12" font-weight="bold" fill="#3f66e0" text-anchor="middle" textLength="92.8" lengthAdjust="spacingAndGlyphs" >Retriever Source</text>
<rect x="620.8" y="232.5" width="157.9" height="63" rx="8" fill="#ebf0fd" stroke="#5577e6" stroke-width="1.1" />
<rect x="635.3" y="240.5" width="43" height="14.2" rx="4" fill="#fff" stroke="#5577e6" stroke-width="1" filter="url(#sh)"/>
<text x="656.8" y="250.4" font-size="7.6" fill="#3a3a3a" text-anchor="middle" textLength="33.5" lengthAdjust="spacingAndGlyphs" >Sentence</text>
<rect x="681.7" y="240.5" width="39.1" height="14.2" rx="4" fill="#fff" stroke="#5577e6" stroke-width="1" filter="url(#sh)"/>
<text x="701.25" y="250.4" font-size="7.6" fill="#3a3a3a" text-anchor="middle" textLength="27" lengthAdjust="spacingAndGlyphs" >Chunks</text>
<rect x="724.2" y="240.5" width="47.8" height="14.2" rx="4" fill="#fff" stroke="#5577e6" stroke-width="1" filter="url(#sh)"/>
<text x="748.1" y="250.4" font-size="7.6" fill="#3a3a3a" text-anchor="middle" textLength="36.5" lengthAdjust="spacingAndGlyphs" >Document</text>
<rect x="635.3" y="269.2" width="43" height="14.1" rx="4" fill="#fff" stroke="#5577e6" stroke-width="1" filter="url(#sh)"/>
<text x="656.8" y="279.05" font-size="7.6" fill="#3a3a3a" text-anchor="middle" textLength="21" lengthAdjust="spacingAndGlyphs" >Entity</text>
<rect x="681.7" y="269.2" width="39.1" height="14.1" rx="4" fill="#fff" stroke="#5577e6" stroke-width="1" filter="url(#sh)"/>
<text x="701.25" y="279.05" font-size="7.6" fill="#3a3a3a" text-anchor="middle" textLength="22.5" lengthAdjust="spacingAndGlyphs" >Triplet</text>
<rect x="724.2" y="269.2" width="47.8" height="14.1" rx="4" fill="#fff" stroke="#5577e6" stroke-width="1" filter="url(#sh)"/>
<text x="748.1" y="279.05" font-size="7.6" fill="#3a3a3a" text-anchor="middle" textLength="40.5" lengthAdjust="spacingAndGlyphs" >Sub−Graph</text>
<path d="M634.2 262.5 L682.5 262.5" fill="none" stroke="#3f66e0" stroke-width="0.8"/>
<path d="M724.3 262.5 L771.11 262.5" fill="none" stroke="#3f66e0" stroke-width="0.8"/>
<polygon points="773.5,262.5 770.51,264.05 770.51,260.95" fill="#3f66e0"/>
<text x="703.3" y="265" font-size="6.8" font-weight="bold" fill="#3f66e0" text-anchor="middle" textLength="35" lengthAdjust="spacingAndGlyphs" >granularity</text>
<path d="M629.7 238 L629.7 283.11" fill="none" stroke="#3f66e0" stroke-width="0.8"/>
<polygon points="629.7,285.5 628.15,282.51 631.25,282.51" fill="#3f66e0"/>
<text x="624.7" y="291.4" font-size="6.8" font-weight="bold" fill="#3f66e0" text-anchor="start" textLength="33.6" lengthAdjust="spacingAndGlyphs" >structured</text>
<text x="700.7" y="314.2" font-size="12" font-weight="bold" fill="#3f66e0" text-anchor="middle" textLength="105.8" lengthAdjust="spacingAndGlyphs" >Retriever Selection</text>
<rect x="623" y="322.5" width="155.7" height="45" rx="8" fill="#ebf0fd" stroke="#5577e6" stroke-width="1.1" />
<path d="M650.5 338 L650.5 335.3 Q650.5 332.8 653 332.8 L667.11 332.8" fill="none" stroke="#2a2a2a" stroke-width="1.0"/>
<polygon points="669.5,332.8 666.51,334.35 666.51,331.25" fill="#2a2a2a"/>
<path d="M650.5 348.3 L650.5 351.7 Q650.5 354.2 653 354.2 L667.11 354.2" fill="none" stroke="#2a2a2a" stroke-width="1.0"/>
<polygon points="669.5,354.2 666.51,355.75 666.51,352.65" fill="#2a2a2a"/>
<path d="M716.7 332.8 L726.81 332.8" fill="none" stroke="#2a2a2a" stroke-width="1.0"/>
<polygon points="729.2,332.8 726.21,334.35 726.21,331.25" fill="#2a2a2a"/>
<path d="M716.7 354.2 L726.81 354.2" fill="none" stroke="#2a2a2a" stroke-width="1.0"/>
<polygon points="729.2,354.2 726.21,355.75 726.21,352.65" fill="#2a2a2a"/>
<rect x="635" y="338" width="31.3" height="10.3" rx="3.3" fill="#fff" stroke="#5577e6" stroke-width="1" filter="url(#sh)"/>
<text x="650.65" y="345.89" font-size="7.6" fill="#3a3a3a" text-anchor="middle" textLength="20.5" lengthAdjust="spacingAndGlyphs" >Query</text>
<rect x="669.5" y="327.5" width="47.2" height="10.8" rx="3.3" fill="#fff" stroke="#5577e6" stroke-width="1" filter="url(#sh)"/>
<text x="693.1" y="335.64" font-size="7.6" fill="#3a3a3a" text-anchor="middle" textLength="39.5" lengthAdjust="spacingAndGlyphs" >Embedding</text>
<rect x="669.5" y="348.7" width="47.2" height="10.5" rx="3.3" fill="#fff" stroke="#5577e6" stroke-width="1" filter="url(#sh)"/>
<text x="693.1" y="356.69" font-size="7.6" fill="#3a3a3a" text-anchor="middle" textLength="31" lengthAdjust="spacingAndGlyphs" >Keyword</text>
<rect x="729.2" y="327.5" width="37.1" height="10.8" rx="3.3" fill="#fff" stroke="#5577e6" stroke-width="1" filter="url(#sh)"/>
<text x="747.75" y="335.64" font-size="7.6" fill="#3a3a3a" text-anchor="middle" textLength="27" lengthAdjust="spacingAndGlyphs" >Chunks</text>
<rect x="729.2" y="348.7" width="37.1" height="10.5" rx="3.3" fill="#fff" stroke="#5577e6" stroke-width="1" filter="url(#sh)"/>
<text x="747.75" y="356.69" font-size="7.6" fill="#3a3a3a" text-anchor="middle" textLength="27" lengthAdjust="spacingAndGlyphs" >Chunks</text>
<rect x="663.3" y="362.5" width="75" height="10.5" rx="3" fill="#e8eefc" stroke="#b4c4f4" stroke-width="0.9" />
<text x="700.8" y="370.6" font-size="7.8" fill="#333" text-anchor="middle" textLength="58.5" lengthAdjust="spacingAndGlyphs" stroke="#333" stroke-width="0.28">Hybrid Retrieval</text>
<text x="849.4" y="113" font-size="12" font-weight="bold" fill="#3f66e0" text-anchor="middle" textLength="38.75" lengthAdjust="spacingAndGlyphs" >Rerank</text>
<path d="M795.5 200V129.3Q795.5 121.3 803.5 121.3H895.3Q903.3 121.3 903.3 129.3V200Z" fill="#ebf0fd" stroke="#5577e6" stroke-width="1.1"/>
<path d="M819.7 163.3C808 161.5 802.5 151 804.5 143.5C806 138 809.5 134.2 814.3 132.8" fill="none" stroke="#111" stroke-width="1.2" stroke-linecap="round"/>
<path d="M806.5 130.6L815.3 132.5L809.8 136.6" fill="none" stroke="#111" stroke-width="1.2" stroke-linecap="round" stroke-linejoin="round"/>
<path d="M879.5 154.2C890 155.5 896 163.5 894.8 171.5C893.8 177.5 890 181.8 885.2 183.8" fill="none" stroke="#111" stroke-width="1.2" stroke-linecap="round"/>
<path d="M892.5 186.3L884 184.3L889.3 180" fill="none" stroke="#111" stroke-width="1.2" stroke-linecap="round" stroke-linejoin="round"/>
<rect x="818" y="125.8" width="39" height="13.7" rx="3.8" fill="#fff" stroke="#5577e6" stroke-width="1" filter="url(#sh)"/>
<text x="837.6" y="135.35" font-size="7.4" fill="#3a3a3a" text-anchor="middle" textLength="27" lengthAdjust="spacingAndGlyphs" >Chunks</text>
<rect x="835.3" y="141.7" width="39.2" height="15.5" rx="3.8" fill="#fff" stroke="#5577e6" stroke-width="1" filter="url(#sh)"/>
<text x="860.6" y="152.15" font-size="7.4" fill="#3a3a3a" text-anchor="middle" textLength="19.5" lengthAdjust="spacingAndGlyphs" >Code</text>
<rect x="826.3" y="159.5" width="39.5" height="15.5" rx="3.8" fill="#fff" stroke="#5577e6" stroke-width="1" filter="url(#sh)"/>
<text x="852.4" y="169.95" font-size="7.4" fill="#3a3a3a" text-anchor="middle" textLength="19.5" lengthAdjust="spacingAndGlyphs" >Table</text>
<rect x="842" y="177.5" width="38.8" height="13.8" rx="3.8" fill="#fff" stroke="#5577e6" stroke-width="1" filter="url(#sh)"/>
<text x="861.5" y="187.1" font-size="7.4" fill="#3a3a3a" text-anchor="middle" textLength="27" lengthAdjust="spacingAndGlyphs" >Chunks</text>
<g fill="#ececec" stroke="#3a3a3a" stroke-width="0.75" stroke-linejoin="round"><path d="M839.7 143.8H845.6L848.4 146.6V155.4H839.7Z"/><path d="M845.6 143.8V146.6H848.4" fill="none"/></g>
<rect x="841" y="151.2" width="6.1" height="2.9" fill="#3a3a3a"/><path d="M841.3 147.4H844M841.3 149.2H846.8" stroke="#555" stroke-width="0.6"/>
<g fill="#555" stroke="#2e2e2e" stroke-width="0.8" stroke-linejoin="round"><path d="M829.9 161.8H836.6L839.8 164.8V173H829.9Z"/></g>
<path d="M830.4 165.6H839.4V172.7H830.4Z" fill="#2e2e2e"/><path d="M832.7 166.6V172.3M835 166.6V172.3M837.3 166.6V172.3" stroke="#ddd" stroke-width="0.7"/><path d="M830.2 163.9H838.2" stroke="#ddd" stroke-width="0.5"/>
<rect x="791.7" y="195" width="115" height="10.4" rx="3" fill="#e8eefc" stroke="#b4c4f4" stroke-width="0.9" />
<text x="849.2" y="202.9" font-size="7.9" fill="#333" text-anchor="middle" textLength="106.7" lengthAdjust="spacingAndGlyphs" stroke="#333" stroke-width="0.28">Multi−type document Rerank</text>
<text x="845.8" y="224.6" font-size="12" font-weight="bold" fill="#3f66e0" text-anchor="middle" textLength="74" lengthAdjust="spacingAndGlyphs" >Compression</text>
<rect x="795.5" y="232.5" width="107.8" height="61" rx="8" fill="#ebf0fd" stroke="#5577e6" stroke-width="1.1" />
<rect x="807.6" y="244.3" width="39.3" height="7.7" rx="2.4" fill="#fff" stroke="none" stroke-width="0" />
<rect x="815.5" y="244.3" width="5.8" height="7.7" fill="#5b7de8"/>
<rect x="830" y="244.3" width="8.7" height="7.7" fill="#5b7de8"/>
<rect x="807.6" y="244.3" width="39.3" height="7.7" rx="2.4" fill="none" stroke="#111" stroke-width="1.3" />
<path d="M853 248.15 L869.47 248.15" fill="none" stroke="#111" stroke-width="1.1"/>
<polygon points="872.6,248.15 868.69,250.18 868.69,246.12" fill="#111"/>
<rect x="878.9" y="244.3" width="12.5" height="7.7" rx="2.2" fill="#fff" stroke="#111" stroke-width="1.3" />
<rect x="807.6" y="259.4" width="39.3" height="7.6" rx="2.4" fill="#fff" stroke="none" stroke-width="0" />
<rect x="810" y="259.4" width="5.3" height="7.6" fill="#5b7de8"/>
<rect x="824.2" y="259.4" width="8" height="7.6" fill="#5b7de8"/>
<rect x="837.5" y="259.4" width="5.5" height="7.6" fill="#5b7de8"/>
<rect x="807.6" y="259.4" width="39.3" height="7.6" rx="2.4" fill="none" stroke="#111" stroke-width="1.3" />
<path d="M853 263.2 L869.47 263.2" fill="none" stroke="#111" stroke-width="1.1"/>
<polygon points="872.6,263.2 868.69,265.23 868.69,261.17" fill="#111"/>
<rect x="878.9" y="259.4" width="12.5" height="7.6" rx="2.2" fill="#fff" stroke="#111" stroke-width="1.3" />
<rect x="807.6" y="274.4" width="39.3" height="7.8" rx="2.4" fill="#fff" stroke="none" stroke-width="0" />
<rect x="812.2" y="274.4" width="7.8" height="7.8" fill="#5b7de8"/>
<rect x="830.8" y="274.4" width="4.2" height="7.8" fill="#5b7de8"/>
<rect x="840.8" y="274.4" width="5.4" height="7.8" fill="#5b7de8"/>
<rect x="807.6" y="274.4" width="39.3" height="7.8" rx="2.4" fill="none" stroke="#111" stroke-width="1.3" />
<path d="M853 278.3 L869.47 278.3" fill="none" stroke="#111" stroke-width="1.1"/>
<polygon points="872.6,278.3 868.69,280.33 868.69,276.27" fill="#111"/>
<rect x="878.9" y="274.4" width="12.5" height="7.8" rx="2.2" fill="#fff" stroke="#111" stroke-width="1.3" />
<rect x="809.7" y="288.3" width="79.5" height="10.4" rx="3" fill="#e8eefc" stroke="#b4c4f4" stroke-width="0.9" />
<text x="849.45" y="296.7" font-size="7.8" fill="#333" text-anchor="middle" textLength="69.5" lengthAdjust="spacingAndGlyphs" >(Long) LLM Lingua</text>
<text x="849.5" y="312.3" font-size="12" font-weight="bold" fill="#3f66e0" text-anchor="middle" textLength="51.7" lengthAdjust="spacingAndGlyphs" >Selection</text>
<rect x="795.5" y="321.7" width="107.8" height="45.8" rx="8" fill="#ebf0fd" stroke="#5577e6" stroke-width="1.1" />
<g fill="#f6f8fe" stroke="#2a2a2a" stroke-width="1.5" stroke-linecap="round" stroke-linejoin="round">
<path d="M850.5 330.2H808Q805.2 330.2 805.2 333V336.3Q805.2 339.1 808 339.1H855.3Q858.1 339.1 858.1 336.3V334.3"/>
<path d="M847.5 347.4H808Q805.2 347.4 805.2 350.2V353.4Q805.2 356.2 808 356.2H855.3Q858.1 356.2 858.1 353.4V351"/>
</g>
<path d="M847.3 343.3L856.3 352.3M856.3 343.3L847.3 352.3" fill="none" stroke="#222" stroke-width="1.35" stroke-linecap="round"/>
<path d="M846.8 332.3L851.3 336.5L858 328.7" fill="none" stroke="#3f66e0" stroke-width="1.6" stroke-linecap="round" stroke-linejoin="round"/>
<path transform="translate(866.46 328.36) scale(1.17)" d="M22.2819 9.8211a5.9847 5.9847 0 0 0-.5157-4.9108 6.0462 6.0462 0 0 0-6.5098-2.9A6.0651 6.0651 0 0 0 4.9807 4.1818a5.9847 5.9847 0 0 0-3.9977 2.9 6.0462 6.0462 0 0 0 .7427 7.0966 5.98 5.98 0 0 0 .511 4.9107 6.051 6.051 0 0 0 6.5146 2.9001A5.9847 5.9847 0 0 0 13.2599 24a6.0557 6.0557 0 0 0 5.7718-4.2058 5.9894 5.9894 0 0 0 3.9977-2.9001 6.0557 6.0557 0 0 0-.7475-7.0729zm-9.022 12.6081a4.4755 4.4755 0 0 1-2.8764-1.0408l.1419-.0804 4.7783-2.7582a.7948.7948 0 0 0 .3927-.6813v-6.7369l2.02 1.1686a.071.071 0 0 1 .038.052v5.5826a4.504 4.504 0 0 1-4.4945 4.4944zm-9.6607-4.1254a4.4708 4.4708 0 0 1-.5346-3.0137l.142.0852 4.783 2.7582a.7712.7712 0 0 0 .7806 0l5.8428-3.3685v2.3324a.0804.0804 0 0 1-.0332.0615L9.74 19.9502a4.4992 4.4992 0 0 1-6.1408-1.6464zM2.3408 7.8956a4.485 4.485 0 0 1 2.3655-1.9728V11.6a.7664.7664 0 0 0 .3879.6765l5.8144 3.3543-2.0201 1.1685a.0757.0757 0 0 1-.071 0l-4.8303-2.7865A4.504 4.504 0 0 1 2.3408 7.872zm16.5963 3.8558L13.1038 8.364 15.1192 7.2a.0757.0757 0 0 1 .071 0l4.8303 2.7913a4.4944 4.4944 0 0 1-.6765 8.1042v-5.6772a.79.79 0 0 0-.407-.667zm2.0107-3.0231l-.142-.0852-4.7735-2.7818a.7759.7759 0 0 0-.7854 0L9.409 9.2297V6.8974a.0662.0662 0 0 1 .0284-.0615l4.8303-2.7866a4.4992 4.4992 0 0 1 6.6802 4.66zM8.3065 12.863l-2.02-1.1638a.0804.0804 0 0 1-.038-.0567V6.0742a4.4992 4.4992 0 0 1 7.3757-3.4537l-.142.0805L8.704 5.459a.7948.7948 0 0 0-.3927.6813zm1.0976-2.3654l2.602-1.4998 2.6069 1.4998v2.9994l-2.5974 1.4997-2.6067-1.4997Z" fill="#1c1c1c" stroke="#ebf0fd" stroke-width="0.5"/>
<rect x="809.7" y="362.5" width="79.5" height="10.5" rx="3" fill="#e8eefc" stroke="#b4c4f4" stroke-width="0.9" />
<text x="849.45" y="370.9" font-size="8" fill="#333" text-anchor="middle" textLength="70" lengthAdjust="spacingAndGlyphs" stroke="#333" stroke-width="0.28">LLM Select chunks</text>
<text x="986.4" y="113" font-size="12" font-weight="bold" fill="#3f66e0" text-anchor="middle" textLength="73.25" lengthAdjust="spacingAndGlyphs" >Generator FT</text>
<rect x="920.3" y="121.3" width="133" height="84.9" rx="8" fill="#ebf0fd" stroke="#5577e6" stroke-width="1.1" />
<path d="M951.7 153.3 L951.7 174.02" fill="none" stroke="#2a2a2a" stroke-width="1.0"/>
<polygon points="951.7,176.6 950.03,173.38 953.37,173.38" fill="#2a2a2a"/>
<path d="M988.3 157.5 L961 157.5 Q959.5 157.5 959.5 159 L959.5 174.02" fill="none" stroke="#2a2a2a" stroke-width="1.0"/>
<polygon points="959.5,176.6 957.83,173.38 961.17,173.38" fill="#2a2a2a"/>
<path d="M988.3 185.5 L973.58 185.5" fill="none" stroke="#2a2a2a" stroke-width="1.0"/>
<polygon points="971,185.5 974.22,183.83 974.22,187.17" fill="#2a2a2a"/>
<rect x="931.2" y="135.3" width="48.5" height="18" rx="3.5" fill="#c9d6f6" stroke="#5577e6" stroke-width="1" filter="url(#sh)"/>
<text x="955.8" y="147.1" font-size="7.6" fill="#222" text-anchor="middle" textLength="31.5" lengthAdjust="spacingAndGlyphs" >Retriever</text>
<rect x="988.3" y="139.7" width="57" height="26.6" rx="5" fill="#fff" stroke="#5577e6" stroke-width="1" filter="url(#sh)"/>
<text x="1040" y="151.3" font-size="7.6" fill="#3a3a3a" text-anchor="end" textLength="28.5" lengthAdjust="spacingAndGlyphs" >External</text>
<text x="1040" y="161.3" font-size="7.6" fill="#3a3a3a" text-anchor="end" textLength="39.5" lengthAdjust="spacingAndGlyphs" >Knowledge</text>
<rect x="937" y="176.3" width="33.8" height="17.9" rx="3.5" fill="#f6ccd2" stroke="#5577e6" stroke-width="1" filter="url(#sh)"/>
<text x="954" y="188.8" font-size="9.2" fill="#222" text-anchor="middle" textLength="19" lengthAdjust="spacingAndGlyphs" >LLM</text>
<rect x="988.3" y="176.3" width="57" height="17.9" rx="3.5" fill="#c9d6f6" stroke="#5577e6" stroke-width="1" filter="url(#sh)"/>
<text x="1017" y="188.7" font-size="8" fill="#222" text-anchor="middle" textLength="42.5" lengthAdjust="spacingAndGlyphs" >Larger LLM</text>
<circle cx="932.8" cy="136.7" r="4.5" fill="#d9e3fc"/>
<path d="M932.8 134L932.8 139.4M935.14 135.35L930.46 138.05M935.14 138.05L930.46 135.35" stroke="#4f74e6" stroke-width="0.85" fill="none" stroke-linecap="round"/>
<circle cx="938.7" cy="178" r="4.3" fill="#f7a3a3"/>
<path d="M938.7 175.4 C939.1 176.8 940.8 177.6 940.6 179 C940.5 180.2 939.6 180.6 938.7 180.6 C937.8 180.6 936.8 180.1 936.8 178.9 C936.8 177.8 937.8 177.4 937.9 176.5 C938.3 176.8 938.5 177.1 938.6 177.7 C938.9 177 938.9 176.2 938.7 175.4Z" fill="none" stroke="#e23c3c" stroke-width="0.6"/>
<circle cx="990.3" cy="178" r="4.5" fill="#d9e3fc"/>
<path d="M990.3 175.3L990.3 180.7M992.64 176.65L987.96 179.35M992.64 179.35L987.96 176.65" stroke="#4f74e6" stroke-width="0.85" fill="none" stroke-linecap="round"/>
<text x="986.9" y="224.6" font-size="12" font-weight="bold" fill="#3f66e0" text-anchor="middle" textLength="63.8" lengthAdjust="spacingAndGlyphs" >Verification</text>
<rect x="920.3" y="232.5" width="133" height="135" rx="9" fill="#ebf0fd" stroke="#5577e6" stroke-width="1.1" />
<path d="M947.2 270.8 L947.2 280.8 Q947.2 282.8 949.2 282.8 L979.2 282.8 Q981.2 282.8 981.2 284.8 L981.2 289.72" fill="none" stroke="#333" stroke-width="1.1"/>
<polygon points="981.2,292.3 979.53,289.08 982.87,289.08" fill="#333"/>
<path d="M986.7 270.8 L986.7 289.72" fill="none" stroke="#333" stroke-width="1.1"/>
<polygon points="986.7,292.3 985.03,289.08 988.37,289.08" fill="#333"/>
<path d="M1031.7 270.8 L1031.7 280.8 Q1031.7 282.8 1029.7 282.8 L994.8 282.8 Q992.8 282.8 992.8 284.8 L992.8 289.72" fill="none" stroke="#333" stroke-width="1.1"/>
<polygon points="992.8,292.3 991.13,289.08 994.47,289.08" fill="#333"/>
<path d="M981.7 308 L981.7 314.7 Q981.7 316.7 979.7 316.7 L950.3 316.7 Q948.3 316.7 948.3 318.7 L948.3 327.42" fill="none" stroke="#333" stroke-width="1.1"/>
<polygon points="948.3,330 946.63,326.78 949.97,326.78" fill="#333"/>
<path d="M986.7 308 L986.7 327.42" fill="none" stroke="#333" stroke-width="1.1"/>
<polygon points="986.7,330 985.03,326.78 988.37,326.78" fill="#333"/>
<path d="M992.5 308 L992.5 314.7 Q992.5 316.7 994.5 316.7 L1024.2 316.7 Q1026.2 316.7 1026.2 318.7 L1026.2 327.42" fill="none" stroke="#333" stroke-width="1.1"/>
<polygon points="1026.2,330 1024.53,326.78 1027.87,326.78" fill="#333"/>
<rect x="923.3" y="247.5" width="49.2" height="23.3" rx="4" fill="#eef2fd" stroke="#5577e6" stroke-width="1" filter="url(#sh)"/>
<text x="948.2" y="253.9" font-size="5.1" fill="#333" text-anchor="middle" textLength="46" lengthAdjust="spacingAndGlyphs" >External Knowledge</text>
<rect x="926.2" y="255.8" width="21" height="12.5" rx="3.5" fill="#fff" stroke="#5577e6" stroke-width="1" filter="url(#sh)"/>
<text x="936.7" y="264.93" font-size="8" fill="#3a3a3a" text-anchor="middle" textLength="15" lengthAdjust="spacingAndGlyphs" >Wiki</text>
<rect x="948.7" y="255.8" width="21" height="12.5" rx="3.5" fill="#fff" stroke="#5577e6" stroke-width="1" filter="url(#sh)"/>
<text x="959.2" y="264.93" font-size="8" fill="#3a3a3a" text-anchor="middle" textLength="11" lengthAdjust="spacingAndGlyphs" >KG</text>
<rect x="974.2" y="247.5" width="34.5" height="23.3" rx="4" fill="#fff" stroke="#5577e6" stroke-width="1" filter="url(#sh)"/>
<text x="991.4" y="256.4" font-size="7.6" fill="#3a3a3a" text-anchor="middle" textLength="25.5" lengthAdjust="spacingAndGlyphs" >Review</text>
<text x="991.4" y="266.8" font-size="7.6" fill="#3a3a3a" text-anchor="middle" textLength="22" lengthAdjust="spacingAndGlyphs" >Model</text>
<rect x="1010.3" y="247.5" width="40" height="23.3" rx="4" fill="#fff" stroke="#5577e6" stroke-width="1" filter="url(#sh)"/>
<text x="1030.3" y="256.4" font-size="7.6" fill="#3a3a3a" text-anchor="middle" textLength="26" lengthAdjust="spacingAndGlyphs" >Privacy</text>
<text x="1030.3" y="266.8" font-size="7.6" fill="#3a3a3a" text-anchor="middle" textLength="34.5" lengthAdjust="spacingAndGlyphs" >Detection</text>
<rect x="965.3" y="292.5" width="43.4" height="15.5" rx="4.5" fill="#efebfb" stroke="#c8c3f0" stroke-width="1" filter="url(#sh)"/>
<text x="987" y="303.13" font-size="8" fill="#3a3a3a" text-anchor="middle" textLength="24.5" lengthAdjust="spacingAndGlyphs" >Output</text>
<text x="929.2" y="294.6" font-size="5.3" fill="#3f66e0" text-anchor="start" textLength="35.5" lengthAdjust="spacingAndGlyphs" >Hallucination?</text>
<text x="1009.2" y="294.6" font-size="5.3" fill="#3f66e0" text-anchor="start" textLength="33.8" lengthAdjust="spacingAndGlyphs" >Private Data?</text>
<text x="929.2" y="310.6" font-size="5.3" fill="#3f66e0" text-anchor="start" textLength="23" lengthAdjust="spacingAndGlyphs" >Question</text>
<text x="929.2" y="315.1" font-size="5.3" fill="#3f66e0" text-anchor="start" textLength="28" lengthAdjust="spacingAndGlyphs" >Answered?</text>
<rect x="931.2" y="330" width="34.3" height="23.3" rx="3.5" fill="#fff" stroke="#5577e6" stroke-width="1" filter="url(#sh)"/>
<text x="948.3" y="339.6" font-size="7.4" fill="#3a3a3a" text-anchor="middle" textLength="22.5" lengthAdjust="spacingAndGlyphs" >Output</text>
<text x="948.3" y="349.3" font-size="7.4" fill="#3a3a3a" text-anchor="middle" textLength="23.5" lengthAdjust="spacingAndGlyphs" >Answer</text>
<rect x="969.2" y="330" width="34.1" height="23.3" rx="3.5" fill="#fff" stroke="#5577e6" stroke-width="1" filter="url(#sh)"/>
<text x="986.2" y="339.6" font-size="7.4" fill="#3a3a3a" text-anchor="middle" textLength="26.5" lengthAdjust="spacingAndGlyphs" >Do RAG</text>
<text x="986.2" y="349.3" font-size="7.4" fill="#3a3a3a" text-anchor="middle" textLength="18.5" lengthAdjust="spacingAndGlyphs" >Again</text>
<rect x="1007" y="330" width="38.8" height="23.3" rx="3.5" fill="#fff" stroke="#5577e6" stroke-width="1" filter="url(#sh)"/>
<text x="1026.4" y="339.6" font-size="7.4" fill="#3a3a3a" text-anchor="middle" textLength="31.5" lengthAdjust="spacingAndGlyphs" >Refuse to</text>
<text x="1026.4" y="349.3" font-size="7.4" fill="#3a3a3a" text-anchor="middle" textLength="23.5" lengthAdjust="spacingAndGlyphs" >Answer</text>
<path d="M410.8 391.7H307.2Q299.2 391.7 299.2 399.7V515.7Q299.2 523.7 307.2 523.7H439.8Q447.8 523.7 447.8 515.7V403.2" fill="#ebf0fd" stroke="none"/>
<path d="M299.2 391.7H447.8V523.7H299.2Z" fill="none" stroke="none"/>
<rect x="299.2" y="391.7" width="148.6" height="132" rx="8" fill="#ebf0fd" stroke="none" stroke-width="0" />
<path d="M410.8 391.7H307.2Q299.2 391.7 299.2 399.7V515.7Q299.2 523.7 307.2 523.7H439.8Q447.8 523.7 447.8 515.7V403.2" fill="none" stroke="#5577e6" stroke-width="1.1"/>
<rect x="411.5" y="386" width="46" height="16.5" fill="#fdfcf8"/>
<text x="435" y="397.5" font-size="12" font-weight="bold" fill="#3f66e0" text-anchor="middle" textLength="42.5" lengthAdjust="spacingAndGlyphs" >Routing</text>
<path d="M373.3 409.5 L373.3 419.72" fill="none" stroke="#1a1a1a" stroke-width="1.0"/>
<polygon points="373.3,422.3 371.63,419.08 374.97,419.08" fill="#1a1a1a"/>
<path d="M345.8 441.3 L337.8 441.3 Q335.8 441.3 335.8 443.3 L335.8 457.42" fill="none" stroke="#2a2a2a" stroke-width="1.0"/>
<polygon points="335.8,460 334.13,456.78 337.47,456.78" fill="#2a2a2a"/>
<path d="M401.3 441.3 L409.3 441.3 Q411.3 441.3 411.3 443.3 L411.3 457.42" fill="none" stroke="#2a2a2a" stroke-width="1.0"/>
<polygon points="411.3,460 409.63,456.78 412.97,456.78" fill="#2a2a2a"/>
<path d="M335.8 473 L335.8 485.72" fill="none" stroke="#1a1a1a" stroke-width="1.0"/>
<polygon points="335.8,488.3 334.13,485.08 337.47,485.08" fill="#1a1a1a"/>
<path d="M411.3 473 L411.3 485.72" fill="none" stroke="#1a1a1a" stroke-width="1.0"/>
<polygon points="411.3,488.3 409.63,485.08 412.97,485.08" fill="#1a1a1a"/>
<rect x="349.7" y="397.5" width="47.8" height="11.7" rx="3.8" fill="#fff" stroke="#5577e6" stroke-width="1" filter="url(#sh)"/>
<text x="373.6" y="406.09" font-size="7.6" fill="#3a3a3a" text-anchor="middle" textLength="21" lengthAdjust="spacingAndGlyphs" >Query</text>
<text x="387" y="421.4" font-size="5.6" fill="#3f66e0" text-anchor="start" textLength="46" lengthAdjust="spacingAndGlyphs" >Semantic Analysis</text>
<polygon points="373.5,422 401.2,441.2 373.5,460.4 345.8,441.2" fill="#fff" stroke="#e4894c" stroke-width="1.2" stroke-linejoin="round" filter="url(#sh)"/>
<text x="373.5" y="444.7" font-size="8" fill="#3a3a3a" text-anchor="middle" >Judge</text>
<rect x="310.3" y="460" width="50.5" height="13" rx="4" fill="#efebfb" stroke="#c8c3f0" stroke-width="1" filter="url(#sh)"/>
<text x="335.55" y="469.38" font-size="8" fill="#3a3a3a" text-anchor="middle" textLength="31.5" lengthAdjust="spacingAndGlyphs" >Pipeline1</text>
<rect x="386.3" y="460" width="50.4" height="13" rx="4" fill="#efebfb" stroke="#c8c3f0" stroke-width="1" filter="url(#sh)"/>
<text x="411.5" y="469.38" font-size="8" fill="#3a3a3a" text-anchor="middle" textLength="32.5" lengthAdjust="spacingAndGlyphs" >Pipeline2</text>
<rect x="306.3" y="488.3" width="58.4" height="15.9" rx="6" fill="#fff" stroke="#5577e6" stroke-width="1" filter="url(#sh)"/>
<text x="335.5" y="499.35" font-size="8.6" fill="#3a3a3a" text-anchor="middle" textLength="46.5" lengthAdjust="spacingAndGlyphs" >Hard Prompt</text>
<rect x="382.2" y="488.3" width="58.6" height="15.9" rx="6" fill="#fff" stroke="#5577e6" stroke-width="1" filter="url(#sh)"/>
<text x="411.5" y="499.35" font-size="8.6" fill="#3a3a3a" text-anchor="middle" textLength="44.5" lengthAdjust="spacingAndGlyphs" >Soft Prompt</text>
<text x="335.8" y="510.9" font-size="5.5" fill="#3f66e0" text-anchor="middle" textLength="54" lengthAdjust="spacingAndGlyphs" >Only rely on retrieved</text>
<text x="335.8" y="517.1" font-size="5.5" fill="#3f66e0" text-anchor="middle" textLength="18" lengthAdjust="spacingAndGlyphs" >chunks</text>
<text x="411.6" y="510.9" font-size="5.5" fill="#3f66e0" text-anchor="middle" textLength="41.5" lengthAdjust="spacingAndGlyphs" >Allow LLM's own</text>
<text x="411.6" y="517.1" font-size="5.5" fill="#3f66e0" text-anchor="middle" textLength="27.5" lengthAdjust="spacingAndGlyphs" >knowledge</text>
<rect x="560.9" y="399" width="114.4" height="25.7" rx="6" fill="#000" stroke="none" stroke-width="0" opacity="0.13" filter="url(#bl)"/>
<rect x="560.3" y="398" width="114.4" height="25.7" rx="6" fill="#fdfdfc" stroke="#4d4d4d" stroke-width="1" />
<text x="617.5" y="415.6" font-size="13.6" font-weight="bold" fill="#111" text-anchor="middle" textLength="82" lengthAdjust="spacingAndGlyphs" >Orchestration</text>
<rect x="464.5" y="443" width="312.2" height="80.8" rx="8" fill="#ebf0fd" stroke="none" stroke-width="0" />
<rect x="458" y="436" width="66" height="17" fill="#fdfcf8"/>
<path d="M526.3 443H768.7Q776.7 443 776.7 451V515.8Q776.7 523.8 768.7 523.8H472.5Q464.5 523.8 464.5 515.8V453.7" fill="none" stroke="#5577e6" stroke-width="1.1"/>
<text x="490.8" y="447.5" font-size="12" font-weight="bold" fill="#3f66e0" text-anchor="middle" textLength="62.3" lengthAdjust="spacingAndGlyphs" >Scheduling</text>
<path d="M517.8 470.3 L528.42 470.3" fill="none" stroke="#1a1a1a" stroke-width="1.0"/>
<polygon points="531,470.3 527.78,471.97 527.78,468.63" fill="#1a1a1a"/>
<path d="M579.2 470.3 L597.72 470.3" fill="none" stroke="#1a1a1a" stroke-width="1.0" stroke-dasharray="2.6 1.8"/>
<polygon points="600.3,470.3 597.08,471.97 597.08,468.63" fill="#1a1a1a"/>
<path d="M648.3 470.3 L658.92 470.3" fill="none" stroke="#1a1a1a" stroke-width="1.0"/>
<polygon points="661.5,470.3 658.28,471.97 658.28,468.63" fill="#1a1a1a"/>
<path d="M710 470.3 L720.72 470.3" fill="none" stroke="#1a1a1a" stroke-width="1.0"/>
<polygon points="723.3,470.3 720.08,471.97 720.08,468.63" fill="#1a1a1a"/>
<path d="M555 486.7 L555 497.72" fill="none" stroke="#1a1a1a" stroke-width="1.0"/>
<polygon points="555,500.3 553.33,497.08 556.67,497.08" fill="#1a1a1a"/>
<path d="M579.2 505 L622.1 505 Q624.3 505 624.3 502.8 L624.3 479.48" fill="none" stroke="#1a1a1a" stroke-width="1.1"/>
<polygon points="624.3,476.9 625.97,480.12 622.63,480.12" fill="#1a1a1a"/>
<path d="M685.5 486.7 L685.5 509.2 L581.98 509.2" fill="none" stroke="#1a1a1a" stroke-width="1.0" stroke-dasharray="2.6 1.8"/>
<polygon points="579.4,509.2 582.62,507.53 582.62,510.87" fill="#1a1a1a"/>
<rect x="470" y="463.7" width="47.8" height="13" rx="4" fill="#fff" stroke="#5577e6" stroke-width="1" filter="url(#sh)"/>
<text x="493.9" y="472.86" font-size="7.4" fill="#3a3a3a" text-anchor="middle" textLength="20.5" lengthAdjust="spacingAndGlyphs" >Query</text>
<polygon points="555,453.4 579.2,470.1 555,486.8 530.8,470.1" fill="#fff" stroke="#e4894c" stroke-width="1.2" stroke-linejoin="round" filter="url(#sh)"/>
<text x="555" y="472.9" font-size="8" fill="#3a3a3a" text-anchor="middle" >Judge</text>
<rect x="600.3" y="463.7" width="48" height="13" rx="4" fill="#fff" stroke="#5577e6" stroke-width="1" filter="url(#sh)"/>
<text x="624.3" y="472.86" font-size="7.4" fill="#3a3a3a" text-anchor="middle" textLength="32.5" lengthAdjust="spacingAndGlyphs" >Generate</text>
<polygon points="685.6,453.4 709.9,470.1 685.6,486.8 661.3,470.1" fill="#fff" stroke="#e4894c" stroke-width="1.2" stroke-linejoin="round" filter="url(#sh)"/>
<text x="685.6" y="472.9" font-size="8" fill="#3a3a3a" text-anchor="middle" >Judge</text>
<rect x="723.3" y="463.7" width="47.5" height="13" rx="4" fill="#fff" stroke="#5577e6" stroke-width="1" filter="url(#sh)"/>
<text x="747.05" y="472.86" font-size="7.4" fill="#3a3a3a" text-anchor="middle" textLength="24" lengthAdjust="spacingAndGlyphs" >Output</text>
<rect x="531.3" y="500.3" width="47.9" height="13.4" rx="4" fill="#fff" stroke="#5577e6" stroke-width="1" filter="url(#sh)"/>
<text x="555.25" y="509.81" font-size="7.8" fill="#3a3a3a" text-anchor="middle" textLength="29.5" lengthAdjust="spacingAndGlyphs" >Retrieve</text>
<text x="508" y="496.4" font-size="5.6" fill="#3f66e0" text-anchor="start" textLength="44.5" lengthAdjust="spacingAndGlyphs" >Need Retrieval ?</text>
<text x="638.7" y="506.3" font-size="5.6" fill="#3f66e0" text-anchor="start" textLength="44.6" lengthAdjust="spacingAndGlyphs" >Retrieval Again ?</text>
<rect x="786.7" y="393" width="267" height="130.8" rx="8" fill="#ebf0fd" stroke="none" stroke-width="0" />
<rect x="776" y="386" width="102" height="15.5" fill="#fdfcf8"/>
<path d="M880.3 393H1045.7Q1053.7 393 1053.7 401V515.8Q1053.7 523.8 1045.7 523.8H794.7Q786.7 523.8 786.7 515.8V401.7" fill="none" stroke="#5577e6" stroke-width="1.1"/>
<text x="827.2" y="397.5" font-size="12" font-weight="bold" fill="#3f66e0" text-anchor="middle" textLength="98.3" lengthAdjust="spacingAndGlyphs" >Knowledge Guide</text>
<path d="M804.2 420.5 L804.2 460.5 Q804.2 462.5 806.2 462.5 L815.62 462.5" fill="none" stroke="#2a2a2a" stroke-width="1.0"/>
<polygon points="818.2,462.5 814.98,464.17 814.98,460.83" fill="#2a2a2a"/>
<path d="M842 445.8 L842 434.2 Q842 432.2 844 432.2 L872.42 432.2" fill="none" stroke="#2a2a2a" stroke-width="1.0"/>
<polygon points="875,432.2 871.78,433.87 871.78,430.53" fill="#2a2a2a"/>
<path d="M869.2 505 L844.4 505 Q842.4 505 842.4 503 L842.4 482.08" fill="none" stroke="#2a2a2a" stroke-width="1.0"/>
<polygon points="842.4,479.5 844.07,482.72 840.73,482.72" fill="#2a2a2a"/>
<path d="M986.3 462.5 L996.62 462.5" fill="none" stroke="#2a2a2a" stroke-width="1.1"/>
<polygon points="999.2,462.5 995.98,464.17 995.98,460.83" fill="#2a2a2a"/>
<g fill="none" stroke="#5b7de8" stroke-width="0.8">
<path d="M888.1 471V498.3"/>
<path d="M930.5 471V481.7Q930.5 483.7 928.5 483.7H894.8Q892.8 483.7 892.8 485.7V498.3"/>
<path d="M973.3 471V487.5Q973.3 489.5 971.3 489.5H899.5Q897.5 489.5 897.5 491.5V498.3"/>
</g>
<polygon points="888.1,498.6 887.1,496.2 889.1,496.2" fill="#5b7de8"/>
<polygon points="892.8,498.6 891.8,496.2 893.8,496.2" fill="#5b7de8"/>
<polygon points="897.5,498.6 896.5,496.2 898.5,496.2" fill="#5b7de8"/>
<circle cx="888.1" cy="483.8" r="1.9" fill="#dfe3ee" stroke="#555" stroke-width="0.5"/>
<text x="888.1" y="484.9" font-size="3" fill="#333" text-anchor="middle">①</text>
<circle cx="911.7" cy="483.8" r="1.9" fill="#dfe3ee" stroke="#555" stroke-width="0.5"/>
<text x="911.7" y="484.9" font-size="3" fill="#333" text-anchor="middle">②</text>
<circle cx="973.4" cy="483.8" r="1.9" fill="#dfe3ee" stroke="#555" stroke-width="0.5"/>
<text x="973.4" y="484.9" font-size="3" fill="#333" text-anchor="middle">③</text>
<rect x="793" y="407.5" width="47.8" height="13" rx="4" fill="#fff" stroke="#5577e6" stroke-width="1" filter="url(#sh)"/>
<text x="816.9" y="416.66" font-size="7.4" fill="#3a3a3a" text-anchor="middle" textLength="20.5" lengthAdjust="spacingAndGlyphs" >Query</text>
<!-- schedule -->
<polygon points="842.2,445.8 866.5,462.7 842.2,479.6 817.9,462.7" fill="#fff" stroke="#e4894c" stroke-width="1.2" stroke-linejoin="round"/>
<text x="842.2" y="465.5" font-size="8.2" fill="#3a3a3a" text-anchor="middle" textLength="32.5" lengthAdjust="spacingAndGlyphs" >Schedule</text>
<rect x="875" y="425.5" width="74.5" height="13.2" rx="4" fill="#fff" stroke="#5577e6" stroke-width="1" filter="url(#sh)"/>
<text x="912.25" y="434.98" font-size="8" fill="#3a3a3a" text-anchor="middle" textLength="63.5" lengthAdjust="spacingAndGlyphs" >Knowledge Graph</text>
<rect x="875.3" y="449.2" width="111" height="26.6" rx="5" fill="#fbf8fb" stroke="#e4894c" stroke-width="1.1" filter="url(#sh)"/>
<text x="931" y="459.3" font-size="8" fill="#3a3a3a" text-anchor="middle" textLength="56.4" lengthAdjust="spacingAndGlyphs" >Reasoning Path</text>
<circle cx="888.1" cy="467" r="3.9" fill="#f8dcd0" stroke="#4262e4" stroke-width="2.2"/>
<circle cx="930.5" cy="467" r="3.9" fill="#f8dcd0" stroke="#4262e4" stroke-width="2.2"/>
<circle cx="973.3" cy="467" r="3.9" fill="#f8dcd0" stroke="#4262e4" stroke-width="2.2"/>
<path d="M898.3 467 L907.3 467" fill="none" stroke="#3f66e0" stroke-width="0.8"/>
<text x="909.3" y="469.2" font-size="7.6" fill="#3f66e0" text-anchor="middle" >r</text>
<path d="M911.5 467 L918.91 467" fill="none" stroke="#3f66e0" stroke-width="0.8"/>
<polygon points="921.3,467 918.31,468.55 918.31,465.45" fill="#3f66e0"/>
<path d="M940.8 467 L949.8 467" fill="none" stroke="#3f66e0" stroke-width="0.8"/>
<text x="951.8" y="469.2" font-size="7.6" fill="#3f66e0" text-anchor="middle" >r</text>
<path d="M954 467 L961.41 467" fill="none" stroke="#3f66e0" stroke-width="0.8"/>
<polygon points="963.8,467 960.81,468.55 960.81,465.45" fill="#3f66e0"/>
<rect x="999.2" y="456.3" width="47.8" height="13.4" rx="4" fill="#fff" stroke="#5577e6" stroke-width="1" filter="url(#sh)"/>
<text x="1023.1" y="465.74" font-size="7.6" fill="#3a3a3a" text-anchor="middle" textLength="32.5" lengthAdjust="spacingAndGlyphs" >Generate</text>
<rect x="869.2" y="498.3" width="47.8" height="13.4" rx="4" fill="#fff" stroke="#5577e6" stroke-width="1" filter="url(#sh)"/>
<text x="893.1" y="507.81" font-size="7.8" fill="#3a3a3a" text-anchor="middle" textLength="29.5" lengthAdjust="spacingAndGlyphs" >Retrieve</text>
</svg>
</body></html>
